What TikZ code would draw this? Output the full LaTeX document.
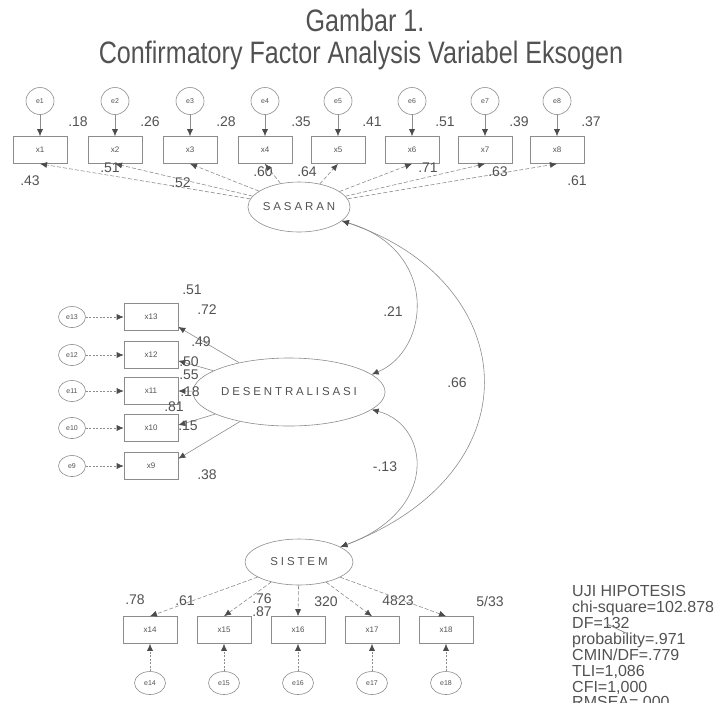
\documentclass[tikz,border=0pt]{standalone}
\usepackage{graphicx}
\usepackage{fontspec}
\setmainfont{Liberation Sans}
\newfontfamily\spaced{Liberation Sans}[LetterSpace=25]
\usetikzlibrary{arrows.meta,shapes.geometric}
\definecolor{ink}{gray}{0.32}
\definecolor{ln}{gray}{0.55}
\definecolor{tip}{gray}{0.3}
\begin{document}
\begin{tikzpicture}[x=1pt,y=-1pt,
  obs/.style={draw=ln, line width=0.6pt, minimum width=54pt, minimum height=27pt, inner sep=0pt, font=\fontsize{8}{8}\selectfont, text=ink},
  err/.style={draw=ln, ellipse, line width=0.6pt, minimum width=28pt, minimum height=27pt, inner sep=0pt, font=\fontsize{7}{7}\selectfont, text=ink},
  errl/.style={err, minimum width=27pt, minimum height=21pt},
  errb/.style={err, minimum width=31pt, minimum height=23pt},
  lat/.style={draw=ln, ellipse, line width=0.6pt, inner sep=0pt, font=\spaced\fontsize{11.5}{12}\selectfont, text=ink},
  lab/.style={font=\fontsize{14}{14}\selectfont, text=ink, inner sep=0pt},
  arr/.style={-{Latex[length=7pt,width=6pt,color=tip]}, ln, line width=0.6pt},
  dasharr/.style={arr, dash pattern=on 4pt off 2pt},
  dotarr/.style={arr, dash pattern=on 2pt off 1.5pt},
  cov/.style={{Latex[length=7pt,width=6pt,color=tip]}-{Latex[length=7pt,width=6pt,color=tip]}, ln, line width=0.6pt},
  stat/.style={font=\fontsize{16}{16}\selectfont, text=ink, inner sep=0pt, anchor=base west},
  ttl/.style={font=\fontsize{31}{33}\selectfont, text=ink, inner sep=0pt, anchor=base}
]
\useasboundingbox (0,0) rectangle (719,702);

% title
\node[ttl] (t1) at (365,31) {\scalebox{0.81}[1]{Gambar 1.}};
\node[ttl] (t2) at (361,63) {\scalebox{0.81}[1]{Confirmatory Factor Analysis Variabel Eksogen}};

% latent variables
\node[lat, minimum width=102pt, minimum height=50pt] (S) at (299,207) {SASARAN};
\node[lat, minimum width=158pt, minimum height=68pt] (D) at (289,392) {DESENTRALISASI};
\node[lat, minimum width=108pt, minimum height=46pt] (T) at (299,562) {SISTEM};

% top indicators
\foreach \i/\x in {1/40,2/115,3/190,4/265,5/338,6/412,7/485,8/557}{
  \node[obs] (x\i) at (\x,150) {x\i};
  \node[err] (e\i) at (\x,101) {e\i};
  \draw[arr] (e\i) -- (x\i);
  \draw[dasharr] (S) -- (x\i.south);
}
% left indicators
\foreach \i/\y/\a in {13/317/-20,12/355/-12,11/391/0,10/428/6,9/466/15}{
  \node[obs] (x\i) at (151,\y) {x\i};
  \node[errl] (e\i) at (72,\y) {e\i};
  \draw[dotarr] (e\i) -- (x\i);
  \draw[arr] (D) -- (x\i.\a);
}
% bottom indicators
\foreach \i/\x in {14/150,15/224,16/298,17/372,18/446}{
  \node[obs] (x\i) at (\x,630) {x\i};
  \node[errb] (e\i) at (\x,683) {e\i};
  \draw[dotarr] (e\i) -- (x\i);
  \draw[dasharr] (T) -- (x\i.north);
}

% covariances
\draw[cov] (S.-18) .. controls (440,250) and (430,350) .. (D.12);
\draw[cov] (S.-18) .. controls (520,280) and (540,470) .. (T.20);
\draw[cov] (D.-12) .. controls (430,425) and (440,510) .. (T.20);
\node[lab] (c1) at (393,312) {.21};
\node[lab] (c2) at (457,383) {.66};
\node[lab] (c3) at (385,467) {-.13};

% top labels
\node[lab] (r1) at (78,122) {.18};
\node[lab] (r2) at (150,122) {.26};
\node[lab] (r3) at (226,122) {.28};
\node[lab] (r4) at (301,122) {.35};
\node[lab] (r5) at (372,122) {.41};
\node[lab] (r6) at (445,122) {.51};
\node[lab] (r7) at (519,122) {.39};
\node[lab] (r8) at (591,122) {.37};
\node[lab] (l1) at (30,181) {.43};
\node[lab] (l2) at (110,168) {.51};
\node[lab] (l3) at (181,183) {.52};
\node[lab] (l4) at (263,172) {.60};
\node[lab] (l5) at (307,172) {.64};
\node[lab] (l6) at (428,168) {.71};
\node[lab] (l7) at (498,172) {.63};
\node[lab] (l8) at (577,181) {.61};

% left labels
\node[lab] (m1) at (192,290) {.51};
\node[lab] (m2) at (207,310) {.72};
\node[lab] (m3) at (201,342) {.49};
\node[lab] (m4) at (189,362) {.50};
\node[lab] (m5) at (189,375) {.55};
\node[lab] (m6) at (190,392) {.18};
\node[lab] (m7) at (174,407) {.81};
\node[lab] (m8) at (188,426) {.15};
\node[lab] (m9) at (207,475) {.38};

% bottom labels
\node[lab] (b1) at (135,600) {.78};
\node[lab] (b2) at (185,601) {.61};
\node[lab] (b3) at (262,599) {.76};
\node[lab] (b4) at (262,612) {.87};
\node[lab] (b5) at (326,602) {320};
\node[lab] (b6) at (398,601) {4823};
\node[lab] (b7) at (490,601) {5/33};

% statistics
\node[stat] (s1) at (572,596) {UJI HIPOTESIS};
\node[stat] (s2) at (572,612) {chi-square=102.878};
\node[stat] (s3) at (572,628) {DF=132};
\node[stat] (s4) at (572,644) {probability=.971};
\node[stat] (s5) at (572,660) {CMIN/DF=.779};
\node[stat] (s6) at (572,676) {TLI=1,086};
\node[stat] (s7) at (572,692) {CFI=1,000};
\node[stat] (s8) at (572,707) {RMSEA=.000};
\draw[ln, line width=0.8pt] (607,624) -- (628,634);
\end{tikzpicture}
\end{document}
